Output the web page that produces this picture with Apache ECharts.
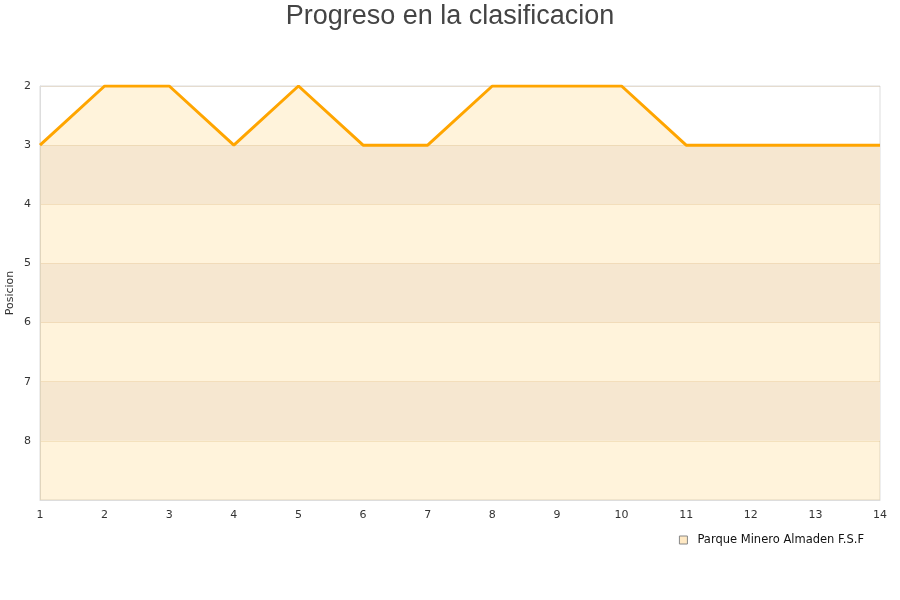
<!DOCTYPE html>
<html><head><meta charset="utf-8">
<script src="https://cdn.jsdelivr.net/npm/echarts@6/dist/echarts.min.js"></script>
<style>html,body{margin:0;padding:0;background:#fff}#c{width:900px;height:600px}</style>
</head><body><div id="c"></div>
<script>
const titleText = 'Progreso en la clasificacion';
const seriesName = 'Parque Minero Almaden F.S.F';
const jornadas = ['1','2','3','4','5','6','7','8','9','10','11','12','13','14'];
const posiciones = [3,2,2,3,2,3,3,2,2,2,3,3,3,3];
const yMin = 2, yMax = 9;

const chart = echarts.init(document.getElementById('c'), null, {renderer:'canvas'});
chart.setOption({
  animation: false,
  backgroundColor: '#fff',
  title: {text: titleText, left: 'center', top: -2,
    textStyle: {fontFamily: 'Liberation Sans', fontSize: 27, fontWeight: 'normal', color: '#444'}},
  legend: {data: [{name: seriesName, icon: 'rect'}], right: 31, top: 529, itemWidth: 8, itemHeight: 8, itemGap: 10,
    itemStyle: {color: '#FFE9C4', borderColor: '#888', borderWidth: 1},
    textStyle: {fontFamily: 'DejaVu Sans', fontSize: 11.5, color: '#111', padding: [0, 0, 0, 5]}},
  grid: {left: 40, right: 20, top: 86, bottom: 100, containLabel: false, outerBoundsMode: 'none',
    show: true, borderColor: '#ddd', borderWidth: 1, backgroundColor: 'transparent'},
  xAxis: {type: 'category', data: jornadas, boundaryGap: false,
    axisLine: {show: true, lineStyle: {color: '#ddd'}}, axisTick: {show: false},
    axisLabel: {color: '#333', fontFamily: 'DejaVu Sans', fontSize: 11, margin: 10},
    splitLine: {show: false}},
  yAxis: {type: 'value', inverse: true, min: yMin, max: yMax, interval: 1,
    name: 'Posicion', nameLocation: 'middle', nameGap: 24, nameRotate: 90, nameMoveOverlap: false,
    nameTextStyle: {color: '#333', fontFamily: 'DejaVu Sans', fontSize: 11},
    axisLine: {show: true, lineStyle: {color: '#ddd'}}, axisTick: {show: false},
    axisLabel: {color: '#333', fontFamily: 'DejaVu Sans', fontSize: 11, margin: 9,
      formatter: v => v >= yMax ? '' : String(v)},
    splitLine: {show: true, lineStyle: {color: 'rgba(200,160,100,0.22)', width: 1}},
    splitArea: {show: true, areaStyle: {color: ['rgba(255,255,255,0)', 'rgb(245,242,243)']}}},
  series: [{name: seriesName, type: 'line', data: posiciones, showSymbol: false, symbolSize: 2,
    itemStyle: {color: '#FFE9C4', borderColor: '#888'},
    lineStyle: {color: '#FFA500', width: 3},
    areaStyle: {origin: 'end', color: 'rgba(255,170,0,0.2)'}}]
});
</script></body></html>
